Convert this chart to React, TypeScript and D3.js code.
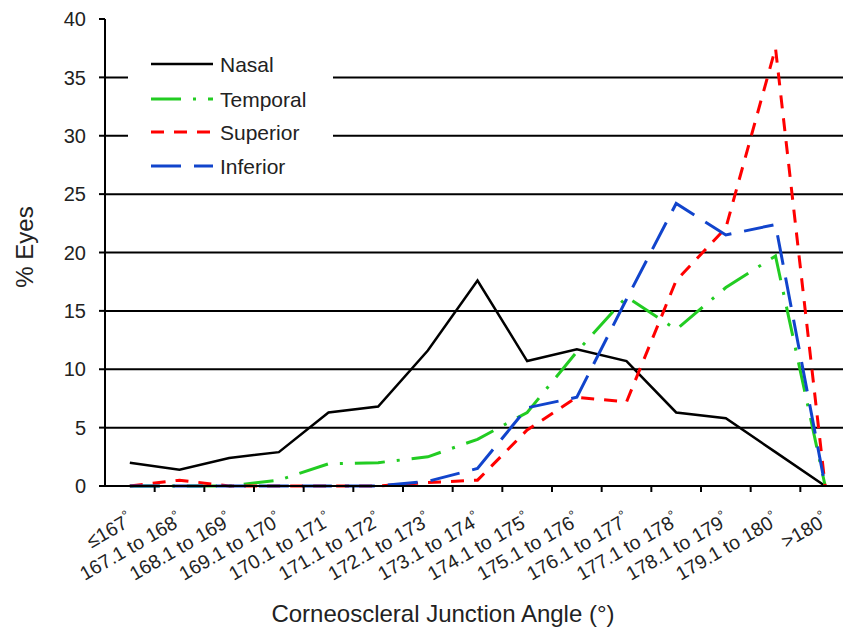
import React from 'react';
import * as d3 from 'd3';

const categories = ['≤167', '167.1 to 168', '168.1 to 169', '169.1 to 170', '170.1 to 171', '171.1 to 172', '172.1 to 173', '173.1 to 174', '174.1 to 175', '175.1 to 176', '176.1 to 177', '177.1 to 178', '178.1 to 179', '179.1 to 180', '>180'];
const nasal = [2.0, 1.4, 2.4, 2.9, 6.3, 6.8, 11.6, 17.6, 10.7, 11.7, 10.7, 6.3, 5.8, 2.9, 0];
const temporal = [0, 0, 0, 0.5, 1.9, 2.0, 2.5, 4.0, 6.3, 11.5, 16.2, 13.4, 17.0, 19.7, 0];
const superior = [0, 0.5, 0, 0, 0, 0, 0.3, 0.5, 4.8, 7.6, 7.2, 17.6, 22.1, 37.5, 0];
const inferior = [0, 0, 0, 0, 0, 0, 0.4, 1.5, 6.7, 7.6, 16.0, 24.2, 21.5, 22.4, 0];
const yTicks = [0, 5, 10, 15, 20, 25, 30, 35, 40];

const series = [
  { name: 'Nasal', values: nasal, color: '#000000', dash: 'none', width: 2.5 },
  { name: 'Temporal', values: temporal, color: '#22cc22', dash: '30,12,3,12', width: 3 },
  { name: 'Superior', values: superior, color: '#ff0000', dash: '13,10', width: 3 },
  { name: 'Inferior', values: inferior, color: '#1144cc', dash: '30,13', width: 3 },
];

const font = 'Liberation Sans, Arial, sans-serif';

const App = () => {
  const width = 843, height = 635;
  const left = 105, right = 850, top = 19, bottom = 486;

  const xBand = d3.scaleBand().domain(categories).range([left, right]).padding(0);
  const yScale = d3.scaleLinear().domain([0, 40]).range([bottom, top]);
  const cx = (c) => xBand(c) + xBand.bandwidth() / 2;

  const line = d3.line().x((d, i) => cx(categories[i])).y(d => yScale(d));
  const legendY = [64, 99, 132, 166];

  return (
    <svg width={width} height={height} style={{ position: 'absolute', left: 0, top: 0, background: '#fff' }} fontFamily={font}>
      {/* grid lines */}
      {yTicks.filter(t => t > 0 && t < 40).map(t => (
        <line key={t} x1={left} x2={width} y1={yScale(t)} y2={yScale(t)} stroke="#000" strokeWidth={2} />
      ))}
      {/* legend background hides grid */}
      <rect x={128} y={42} width={205} height={140} fill="#fff" />

      {series.map(s => (
        <path key={s.name} d={line(s.values)} fill="none" stroke={s.color} strokeWidth={s.width}
          strokeDasharray={s.dash} strokeLinejoin="miter" />
      ))}

      {/* y axis */}
      <line x1={left} x2={left} y1={top} y2={bottom} stroke="#000" strokeWidth={2} />
      {yTicks.map(t => (
        <g key={t} transform={`translate(0,${yScale(t)})`}>
          <line x1={left - 6} x2={left} stroke="#000" strokeWidth={2} />
          <text x={86} dy="0.36em" textAnchor="end" fontSize={20} fill="#222">{t}</text>
        </g>
      ))}
      {/* x axis */}
      <line x1={left} x2={width} y1={bottom} y2={bottom} stroke="#000" strokeWidth={2} />
      {categories.map(c => (
        <g key={c}>
          <line x1={xBand(c) + xBand.bandwidth()} x2={xBand(c) + xBand.bandwidth()} y1={bottom} y2={bottom + 6} stroke="#000" strokeWidth={2} />
          <text transform={`translate(${cx(c) + 4},${524}) rotate(-30)`} textAnchor="end" fontSize={19.5} fill="#222">
            {c}<tspan dy={-7} fontSize={14}>°</tspan>
          </text>
        </g>
      ))}

      {/* legend */}
      {series.map((s, i) => (
        <g key={s.name} transform={`translate(0,${legendY[i]})`}>
          <line x1={151} x2={213} stroke={s.color} strokeWidth={s.width} strokeDasharray={s.dash} />
          <text x={220} dy="0.36em" fontSize={21} fill="#222">{s.name}</text>
        </g>
      ))}

      {/* titles */}
      <text transform={`translate(33,247) rotate(-90)`} textAnchor="middle" fontSize={24} fill="#222">% Eyes</text>
      <text x={443} y={622} textAnchor="middle" fontSize={24} fill="#222">Corneoscleral Junction Angle (°)</text>
    </svg>
  );
};

export default App;
